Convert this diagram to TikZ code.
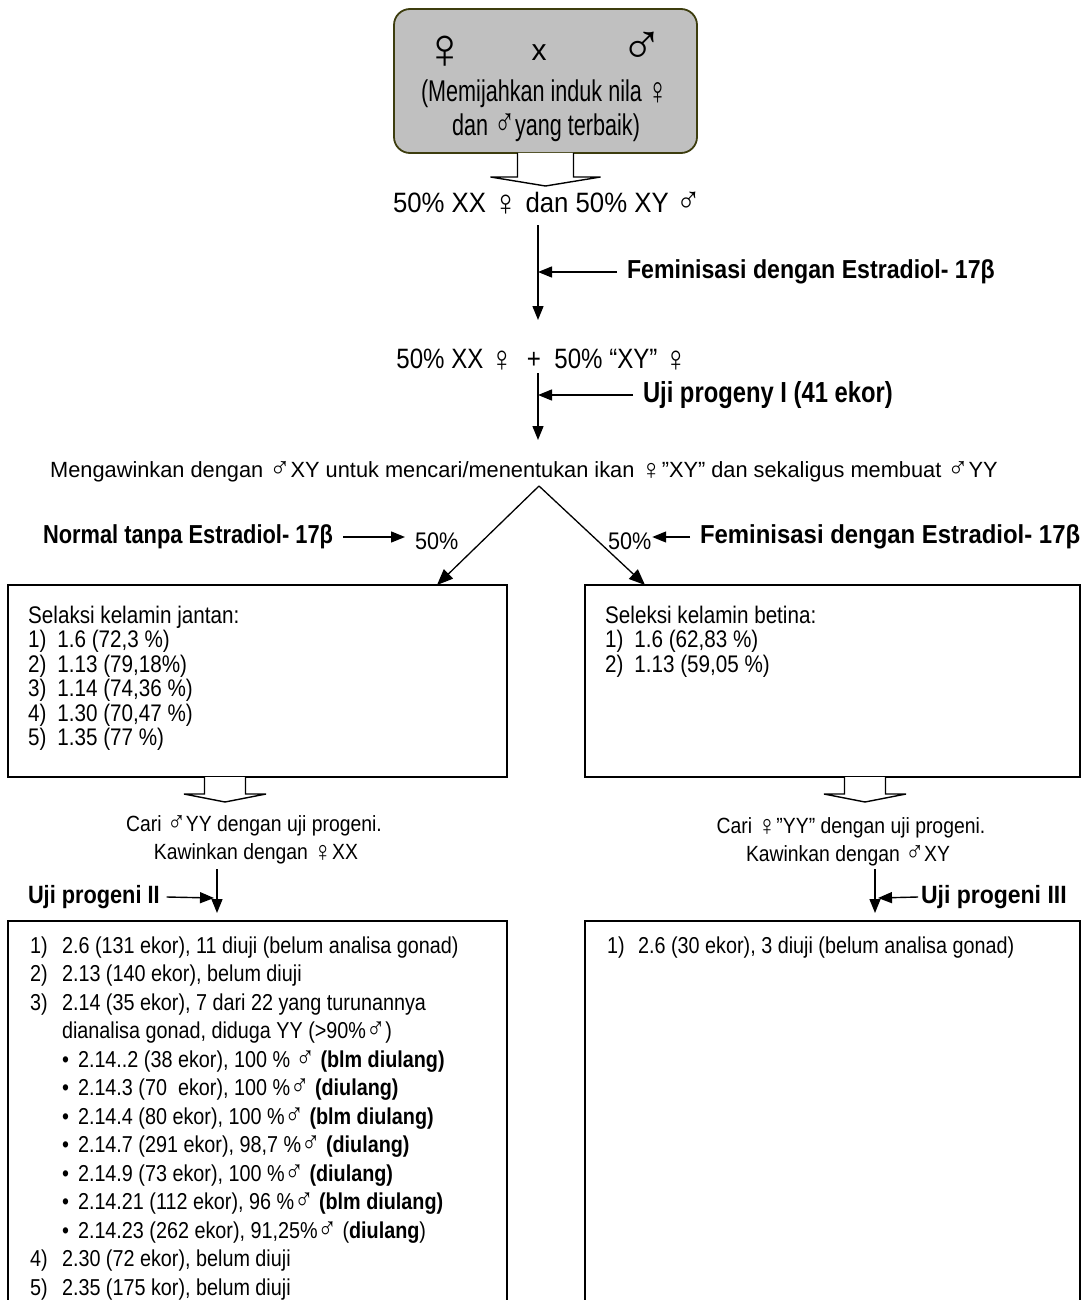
\documentclass[tikz,border=0pt]{standalone}
\usepackage{fontspec}
\usepackage{graphicx}
\setmainfont{Liberation Sans}
\usetikzlibrary{arrows.meta,calc}
\definecolor{boxgray}{HTML}{C0C0C0}
\definecolor{boxedge}{HTML}{3D3D0E}
\newcommand\hs[2]{\scalebox{#1}[1]{#2}}
\newcommand\fs[1]{\fontsize{#1}{#1}\selectfont}
\newcommand\fsl[2]{\fontsize{#1}{#2}\selectfont}
\newcommand\Fe{\raisebox{-0.1em}{\scalebox{1.3}{♀}}}
\newcommand\Ma{\scalebox{1.3}{♂}}
\newcommand\nb[1]{\makebox[34pt][l]{#1}}
\newcommand\nbb[1]{\makebox[37pt][l]{#1}}
\newcommand\bul{\hspace*{37pt}\makebox[18.6pt][l]{\textbullet}}
\begin{document}
\begin{tikzpicture}[x=1pt,y=-1pt,
  lbl/.style={inner sep=0pt, outer sep=0pt, anchor=center},
  arr/.style={line width=1.4pt, -{Triangle[length=14pt,width=11pt]}},
  darr/.style={line width=1.3pt, -{Triangle[length=16pt,width=13pt]}},
  panel/.style={draw=black, line width=1.8pt, inner sep=0pt, outer sep=0pt, anchor=north west},
  blk/.style={draw=black, line width=1.4pt, fill=white, line join=miter}]
\useasboundingbox (0,0) rectangle (1085,1300);
\clip (0,0) rectangle (1085,1300);

% ---- top box
\node[draw=boxedge, fill=boxgray, line width=1.8pt, rounded corners=16pt,
      minimum width=303pt, minimum height=144pt, inner sep=0pt, outer sep=0pt] (top) at (545.5,81) {};
\node[lbl] (fe0) at (445,52) {\fs{36}\scalebox{1.6}{♀}};
\node[lbl] (x0) at (539,53) {\fs{30}x};
\node[lbl] (ma0) at (642,48) {\fs{36}\scalebox{1.6}{♂}};
\node[lbl] (l2) at (545,94) {\hs{0.72}{\fs{30}(Memijahkan induk nila \Fe}};
\node[lbl] (l3) at (546,128) {\hs{0.72}{\fs{30}dan \Ma yang terbaik)}};

% block arrow below top box
\draw[blk] ($(top.south)+(-28,0)$) -- ++(0,24) -- ++(-27,0) -- ($(top.south)+(0,33)$)
  -- ($(top.south)+(55,24)$) -- ++(-27,0) -- ++(0,-24);

\node[lbl] (t1) at (547,204) {\hs{0.92}{\fs{28}50\% XX \Fe\ dan 50\% XY \Ma}};

\coordinate (v1a) at (538,225);
\coordinate (v1b) at (538,320);
\draw[arr] (v1a) -- (v1b);
\node[lbl, anchor=west] (fem1) at (627,272) {\hs{0.89}{\fs{26}\bfseries Feminisasi dengan Estradiol- 17β}};
\coordinate (f1t) at (538,272);
\draw[arr] ($(fem1.west)+(-10,0)$) -- (f1t);

\node[lbl] (t2) at (542,360) {\hs{0.86}{\fs{28}50\% XX \Fe\ \ +\ \ 50\% “XY” \Fe}};
\coordinate (v2a) at (538,373);
\coordinate (v2b) at (538,440);
\draw[arr] (v2a) -- (v2b);
\node[lbl, anchor=west] (uji1) at (643,395) {\hs{0.82}{\fs{29}\bfseries Uji progeny I (41 ekor)}};
\coordinate (u1t) at (538,395);
\draw[arr] ($(uji1.west)+(-10,0)$) -- (u1t);

% ---- mating line
\node[lbl] (mg) at (524,472) {\hs{0.99}{\fs{22}Mengawinkan dengan \Ma XY untuk mencari/menentukan ikan \Fe”XY” dan sekaligus membuat \Ma YY}};
\coordinate (apex) at (539,486);

% ---- upper boxes
\node[panel, minimum width=499pt, minimum height=192pt] (lbox) at (8,585) {};
\node[panel, minimum width=495pt, minimum height=192pt] (rbox) at (585,585) {};
\coordinate (ltip) at (437,585);
\coordinate (rtip) at (645,585);
\draw[darr] (apex) -- (ltip);
\draw[darr] (apex) -- (rtip);

\node[lbl, anchor=west] (nt) at (43,537) {\hs{0.84}{\fs{26}\bfseries Normal tanpa Estradiol- 17β}};
\node[lbl, anchor=west] (p50l) at (415,541) {\hs{0.9}{\fs{24}50\%}};
\draw[arr] ($(nt.east)+(10,0)$) -- ($(p50l.west)+(-10,-4)$);
\node[lbl, anchor=west] (p50r) at (608,541) {\hs{0.9}{\fs{24}50\%}};
\node[lbl, anchor=west] (fem2) at (700,537) {\hs{0.92}{\fs{26}\bfseries Feminisasi dengan Estradiol- 17β}};
\draw[arr] ($(fem2.west)+(-10,0)$) -- ($(p50r.east)+(1,-4)$);

\node[anchor=base west, inner sep=0pt] (ltxt) at (28,623) {\hs{0.86}{\fsl{24}{24}%
\begin{tabular}[t]{@{}l@{}}
Selaksi kelamin jantan:\\
\nb{1)}1.6 (72,3 \%)\\
\nb{2)}1.13 (79,18\%)\\
\nb{3)}1.14 (74,36 \%)\\
\nb{4)}1.30 (70,47 \%)\\
\nb{5)}1.35 (77 \%)
\end{tabular}}};
\node[anchor=base west, inner sep=0pt] (rtxt) at (605,623) {\hs{0.86}{\fsl{24}{24}%
\begin{tabular}[t]{@{}l@{}}
Seleksi kelamin betina:\\
\nb{1)}1.6 (62,83 \%)\\
\nb{2)}1.13 (59,05 \%)
\end{tabular}}};

% block arrows below upper boxes
\coordinate (ha2) at (225,777);
\draw[blk] ($(ha2)+(-20.5,0)$) -- ++(0,17) -- ++(-20.5,0) -- ($(ha2)+(0,25)$)
  -- ($(ha2)+(41,17)$) -- ++(-20.5,0) -- ++(0,-17);
\coordinate (ha3) at (865,777);
\draw[blk] ($(ha3)+(-20.5,0)$) -- ++(0,17) -- ++(-20.5,0) -- ($(ha3)+(0,25)$)
  -- ($(ha3)+(41,17)$) -- ++(-20.5,0) -- ++(0,-17);

\node[lbl] (cari1) at (254,826) {\hs{0.88}{\fs{22}Cari \Ma YY dengan uji progeni.}};
\node[lbl] (kaw1) at (256,854) {\hs{0.88}{\fs{22}Kawinkan dengan \Fe XX}};
\node[lbl] (cari2) at (851,828) {\hs{0.88}{\fs{22}Cari \Fe”YY” dengan uji progeni.}};
\node[lbl] (kaw2) at (848,856) {\hs{0.88}{\fs{22}Kawinkan dengan \Ma XY}};

% progeny II / III arrows
\node[lbl, anchor=west] (up2) at (28,897) {\hs{0.87}{\fs{25}\bfseries Uji progeni II}};
\coordinate (v3a) at (217,869);
\coordinate (v3b) at (217,913);
\draw[arr] (v3a) -- (v3b);
\draw[arr] ($(up2.east)+(7,0)$) -- (214,898);

\node[lbl, anchor=west] (up3) at (921,897) {\hs{0.92}{\fs{25}\bfseries Uji progeni III}};
\coordinate (v4a) at (875,869);
\coordinate (v4b) at (875,913);
\draw[arr] (v4a) -- (v4b);
\draw[arr] ($(up3.west)+(-3,0)$) -- (878,898);

% ---- lower boxes
\node[panel, minimum width=499pt, minimum height=420pt] (lbox2) at (8,921) {};
\node[panel, minimum width=495pt, minimum height=420pt] (rbox2) at (585,921) {};

\node[anchor=base west, inner sep=0pt] (l2txt) at (30,953) {\hs{0.86}{\fsl{23}{28.5}%
\begin{tabular}[t]{@{}l@{}}
\nbb{1)}2.6 (131 ekor), 11 diuji (belum analisa gonad)\\
\nbb{2)}2.13 (140 ekor), belum diuji\\
\nbb{3)}2.14 (35 ekor), 7 dari 22 yang turunannya\\
\hspace*{37pt}dianalisa gonad, diduga YY (>90\%\Ma)\\
\bul 2.14..2 (38 ekor), 100 \% \Ma\ \textbf{(blm diulang)}\\
\bul 2.14.3 (70\ \ ekor), 100 \%\Ma\ \textbf{(diulang)}\\
\bul 2.14.4 (80 ekor), 100 \%\Ma\ \textbf{(blm diulang)}\\
\bul 2.14.7 (291 ekor), 98,7 \%\Ma\ \textbf{(diulang)}\\
\bul 2.14.9 (73 ekor), 100 \%\Ma\ \textbf{(diulang)}\\
\bul 2.14.21 (112 ekor), 96 \%\Ma\ \textbf{(blm diulang)}\\
\bul 2.14.23 (262 ekor), 91,25\%\Ma\ (\textbf{diulang})\\
\nbb{4)}2.30 (72 ekor), belum diuji\\
\nbb{5)}2.35 (175 kor), belum diuji
\end{tabular}}};

\node[anchor=base west, inner sep=0pt] (r2txt) at (607,953) {\hs{0.86}{\fsl{23}{28.5}%
\begin{tabular}[t]{@{}l@{}}
\makebox[36pt][l]{1)}2.6 (30 ekor), 3 diuji (belum analisa gonad)
\end{tabular}}};
\end{tikzpicture}
\end{document}
